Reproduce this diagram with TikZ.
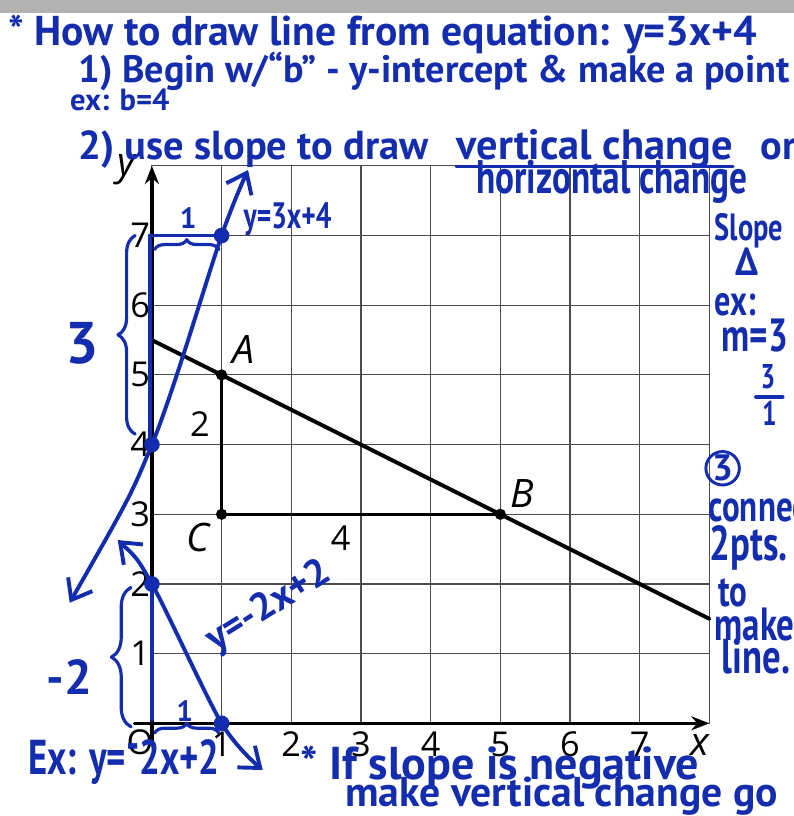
\documentclass[tikz,border=0pt]{standalone}
\usepackage{fontspec}
\setmainfont{Open Sans}
\newfontfamily\handfont{PT Sans}
\newfontfamily\narrowhand[FakeStretch=0.75]{PT Sans}
\usetikzlibrary{arrows.meta,decorations.pathreplacing}
\definecolor{pen}{RGB}{20,45,175}
\newcommand\hsz[1]{\fontsize{#1}{#1}\selectfont}

\begin{document}
\begin{tikzpicture}[>={Straight Barb[length=2.6mm,width=4mm]}, line join=round, line cap=round,
    grid line/.style={draw=black!70, line width=0.45pt},
    axis/.style={line width=1.3pt, -{Stealth[length=2.6mm,width=2mm]}},
    ink/.style={draw=pen, line width=1.6pt},
    hand/.style={text=pen, font=\handfont\bfseries\hsz{16}, inner sep=0pt},
    narrow/.style={text=pen, font=\narrowhand\bfseries\hsz{17}, inner sep=0pt},
    lbl/.style={font=\hsz{14}, inner sep=0pt},
    pointlabel/.style={font=\hsz{16}\itshape, inner sep=0pt}]
\useasboundingbox (-2.18,-1.33) rectangle (9.21,10.38);
% scanner edge
\fill[black!30] (-2.18,10.2) rectangle (9.21,10.38);

% grid and axes
\draw[grid line] (0,0) grid (8,8);
\draw[axis] (-0.25,0) -- (8,0);
\draw[axis] (0,-0.25) -- (0,8);
\node[pointlabel] (xlab) at (7.86,-0.31) {x};
\node[pointlabel] (ylab) at (-0.36,7.94) {y};
\foreach \i in {1,...,7} {
    \node[lbl] (xtick\i) at (\i,-0.3) {\i};
    \node[lbl] (ytick\i) at (-0.17,\i) {\i};
}
\node[lbl] (origin) at (-0.17,-0.27) {O};

% printed line and slope triangle
\coordinate (A) at (1,5);
\coordinate (B) at (5,3);
\coordinate (C) at (1,3);
\coordinate (lineL) at (0,5.5);
\coordinate (lineR) at (8,1.5);
\draw[line width=1.6pt] (lineL) -- (lineR);
\draw[line width=1.3pt] (A) -- (C) -- (B);
\foreach \p in {A,B,C} \fill (\p) circle (2.3pt);
\node[pointlabel] (labA) at (1.31,5.36) {A};
\node[pointlabel] (labB) at (5.31,3.30) {B};
\node[pointlabel] (labC) at (0.66,2.66) {C};
\node[lbl] (rise) at (0.69,4.29) {2};
\node[lbl] (run) at (2.71,2.66) {4};

% y = 3x + 4
\coordinate (b4) at (0,4);
\coordinate (r7) at (1,7);
\coordinate (b7) at (0,7);
\draw[ink] (b7) -- (r7);
\draw[ink] (-0.03,7) -- (-0.03,4);
\draw[ink, <->] plot[smooth, tension=0.5] coordinates {(-1.18,1.73) (b4) (r7) (1.38,7.94)};
\fill[pen] (b4) circle (3.2pt);
\fill[pen] (r7) circle (3.2pt);
\draw[ink, line width=1.3pt, decorate, decoration={brace, amplitude=7pt}] (-0.24,4.15) -- (-0.24,7);
\draw[ink, line width=1.3pt, decorate, decoration={brace, amplitude=4pt}] (0.04,6.8) -- (0.96,6.8);
\node[hand, font=\handfont\bfseries\hsz{12}] (runone) at (0.52,7.25) {1};
\node[hand, font=\handfont\bfseries\hsz{24}] (riseup) at (-1.0,5.45) {3};
\node[narrow, font=\narrowhand\bfseries\hsz{15}, anchor=base west] (eqone) at (1.31,7.10) {y=3x+4};

% y = -2x + 2
\coordinate (b2) at (0,2);
\coordinate (r0) at (1,0);
\draw[ink] (b2) -- (0,0.05);
\draw[ink, <->] plot[smooth, tension=0.5] coordinates {(-0.49,2.63) (b2) (r0) (1.59,-0.67)};
\fill[pen] (b2) circle (3.2pt);
\fill[pen] (r0) circle (3.2pt);
\draw[ink, line width=1.3pt, decorate, decoration={brace, amplitude=8pt}] (-0.3,-0.05) -- (-0.3,1.95);
\draw[ink, line width=1.3pt, decorate, decoration={brace, amplitude=4pt}] (0.04,-0.14) -- (0.96,-0.14);
\node[hand, font=\handfont\bfseries\hsz{12}] (runtwo) at (0.47,0.17) {1};
\node[hand, font=\handfont\bfseries\hsz{20}] (risedown) at (-1.18,0.67) {-2};
\node[hand, rotate=32] (eqtwo) at (1.68,1.67) {y=-2x+2};

% notes
\node[hand, font=\handfont\bfseries\hsz{17}, anchor=base west] (title) at (-2.07,9.73) {* How to draw line from equation: y=3x+4};
\node[hand, font=\handfont\bfseries\hsz{15.6}, anchor=base west] (stepone) at (-1.06,9.19) {1) Begin w/“b” - y-intercept \& make a point};
\node[hand, font=\handfont\bfseries\hsz{12.5}, anchor=base west] (exb) at (-1.18,8.80) {ex: b=4};
\node[hand, font=\handfont\bfseries\hsz{16.5}, anchor=base west] (steptwo) at (-1.06,8.09) {2) use slope to draw};
\node[hand, font=\handfont\bfseries\hsz{17.3}, anchor=base west] (vchange) at ([xshift=11pt]steptwo.base east) {vertical change};
\node[hand, font=\handfont\bfseries\hsz{16.5}, anchor=base west] (orword) at ([xshift=11pt]vchange.base east) {or};
\draw[ink, line width=1.2pt] ([yshift=-3pt]vchange.base west) -- ([yshift=-3pt]vchange.base east);
\node[narrow, font=\narrowhand\bfseries\hsz{19.2}, anchor=base] (hchange) at (6.6,7.61) {horizontal change};
\node[narrow, font=\narrowhand\bfseries\hsz{15.5}, anchor=base] (slope) at (8.57,6.93) {Slope};
\node[hand, anchor=base] (delta) at (8.54,6.43) {Δ};
\node[narrow, font=\narrowhand\bfseries\hsz{17.5}, anchor=base] (exm) at (8.37,5.85) {ex:};
\node[narrow, font=\narrowhand\bfseries\hsz{19}, anchor=base] (mval) at (8.65,5.33) {m=3};
\node[narrow, font=\narrowhand\bfseries\hsz{14}, anchor=base] (fracnum) at (8.84,4.81) {3};
\node[narrow, font=\narrowhand\bfseries\hsz{14}, anchor=base] (fracden) at (8.86,4.28) {1};
\draw[ink] (8.67,4.68) -- (9.05,4.68);
\node[hand, font=\handfont\bfseries\hsz{15}, draw=pen, circle, line width=1.2pt, minimum size=0.48cm] (stepthree) at (8.19,3.66) {3};
\node[narrow, font=\narrowhand\bfseries\hsz{18}, anchor=base west] (connect) at (7.98,2.89) {connect};
\node[narrow, font=\narrowhand\bfseries\hsz{20}, anchor=base west] (twopts) at (8.0,2.34) {2pts.};
\node[narrow, font=\narrowhand\bfseries\hsz{18}, anchor=base west] (toword) at (8.12,1.67) {to};
\node[narrow, font=\narrowhand\bfseries\hsz{19}, anchor=base west] (makeword) at (8.07,1.19) {make};
\node[narrow, font=\narrowhand\bfseries\hsz{20}, anchor=base west] (lineword) at (8.17,0.72) {line.};
\node[narrow, font=\narrowhand\bfseries\hsz{20}, anchor=base west] (extwo) at (-1.78,-0.74) {Ex: y=\raisebox{0.6ex}{-}2x+2};
\node[hand, font=\handfont\bfseries\hsz{18.8}, anchor=base west] (negone) at (2.12,-0.81) {* If slope is negative};
\node[hand, font=\handfont\bfseries\hsz{17}, anchor=base west] (negtwo) at (2.77,-1.20) {make vertical change go};
\end{tikzpicture}
\end{document}
